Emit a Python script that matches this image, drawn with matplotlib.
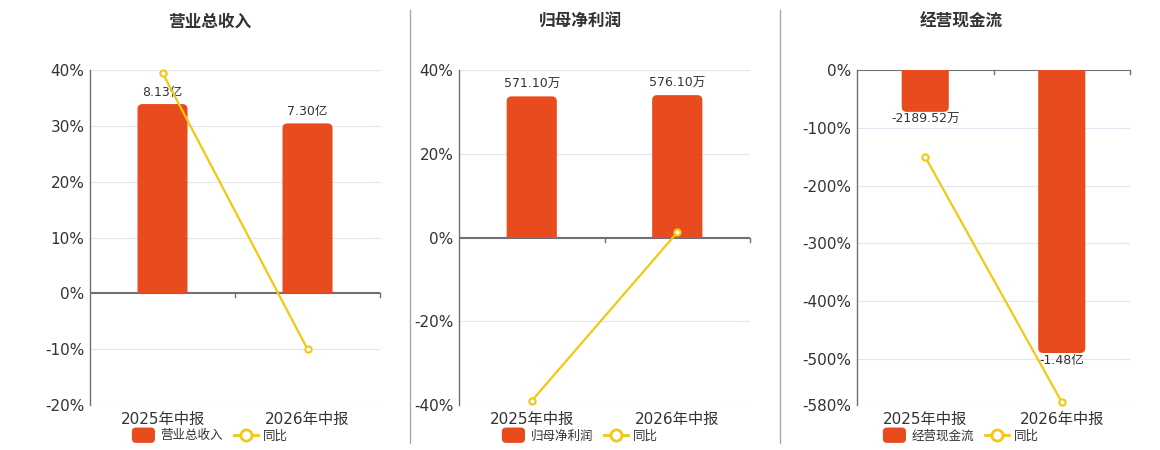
import matplotlib.pyplot as plt
from matplotlib.lines import Line2D
from matplotlib.patches import FancyBboxPatch, Patch, Rectangle
from matplotlib.legend_handler import HandlerPatch

plt.rcParams["font.family"] = ["DejaVu Sans", "Noto Sans CJK SC"]

# data
categories = ["2025年中报", "2026年中报"]

titles = ["营业总收入", "归母净利润", "经营现金流"]

revenue = [8.13, 7.30]            # 亿
revenue_labels = ["8.13亿", "7.30亿"]
revenue_yoy = [39.5, -10.0]       # %

profit = [571.10, 576.10]         # 万
profit_labels = ["571.10万", "576.10万"]
profit_yoy = [-39.0, 1.2]

cashflow = [-2189.52, -14800.0]   # 万
cashflow_labels = ["-2189.52万", "-1.48亿"]
cashflow_yoy = [-150.6, -575.0]

bars_all = [revenue, profit, cashflow]
labels_all = [revenue_labels, profit_labels, cashflow_labels]
yoy_all = [revenue_yoy, profit_yoy, cashflow_yoy]

# layout / style
W, H = 1160, 450
BAR_C = "#E84C1E"
LINE_C = "#F2C811"
GRID_C = "#E0E6F1"
AXIS_C = "#6E7079"
TEXT_C = "#333333"

panels = [
    dict(left=90, right=380, ylim=(-20, 40), ticks=[-20, -10, 0, 10, 20, 30, 40],
         bar_ref=(8.13, 33.9), title_x=210),
    dict(left=459, right=750, ylim=(-40, 40), ticks=[-40, -20, 0, 20, 40],
         bar_ref=(576.10, 34.0), title_x=580),
    dict(left=857, right=1130, ylim=(-580, 0), ticks=[-580, -500, -400, -300, -200, -100, 0],
         bar_ref=(-14800.0, -490.0), title_x=961),
]

fig = plt.figure(figsize=(W / 100, H / 100), dpi=100)
fig.patch.set_facecolor("white")

top_px, bot_px = 70, 405
RADIUS_PX = 5


class RoundHandler(HandlerPatch):
    def create_artists(self, legend, orig_handle, xdescent, ydescent, width, height, fontsize, trans):
        p = FancyBboxPatch((-xdescent, -ydescent - 1.5), width, height + 3,
                           boxstyle="round,pad=0,rounding_size=3",
                           facecolor=BAR_C, edgecolor="none", transform=trans)
        return [p]


x = list(range(len(categories)))

for i, p in enumerate(panels):
    wpx = p["right"] - p["left"]
    hpx = bot_px - top_px
    rect = [p["left"] / W, 1 - bot_px / H, wpx / W, hpx / H]
    ax = fig.add_axes(rect)
    ax.set_xlim(-0.5, 1.5)
    ax.set_ylim(*p["ylim"])
    ax.set_yticks(p["ticks"])
    ax.set_yticklabels([f"{t}%" for t in p["ticks"]], fontsize=11, color=TEXT_C)
    ax.tick_params(axis="y", length=0, pad=4)
    ax.set_xticks(x)
    ax.set_xticklabels(categories, fontsize=11, color=TEXT_C)
    ax.tick_params(axis="x", length=0, pad=5)
    for s in ["top", "right", "bottom"]:
        ax.spines[s].set_visible(False)
    ax.spines["left"].set_color(AXIS_C)
    ax.spines["left"].set_linewidth(1)
    for t in p["ticks"]:
        if t != 0:
            ax.axhline(t, color=GRID_C, lw=0.8, zorder=0)
    ax.axhline(0, color=AXIS_C, lw=1.5, zorder=3)
    ymin, ymax = p["ylim"]
    d = (ymax - ymin) * 0.012
    for bx in [0.5, 1.5]:
        ax.plot([bx, bx], [0, -d], color=AXIS_C, lw=1, zorder=3, clip_on=False)

    # bars on twin axis scaled so that the reference bar lands at the measured height
    axb = ax.twinx()
    val, pct = p["bar_ref"]
    k = val / pct
    blo, bhi = ymin * k, ymax * k
    axb.set_ylim(blo, bhi)
    axb.set_xlim(-0.5, 1.5)
    axb.axis("off")
    bars = axb.bar(x, bars_all[i], width=0.345, color=BAR_C, zorder=2)

    # rounded far ends of the bars
    xu = 2.0 / wpx
    yu = (bhi - blo) / hpx
    r = RADIUS_PX * xu
    aspect = yu / xu
    for b, v in zip(bars, bars_all[i]):
        b.set_visible(False)
        ry = RADIUS_PX * yu
        if v >= 0:
            y0, hh = b.get_y() - ry, b.get_height() + ry
            clip = Rectangle((-0.5, 0), 2, bhi, transform=axb.transData)
        else:
            y0, hh = b.get_y() + b.get_height(), -b.get_height() + ry
            clip = Rectangle((-0.5, blo), 2, -blo, transform=axb.transData)
        fb = FancyBboxPatch((b.get_x(), y0), b.get_width(), hh,
                            boxstyle=f"round,pad=0,rounding_size={r}",
                            mutation_aspect=aspect, facecolor=BAR_C, edgecolor="none", zorder=2)
        axb.add_patch(fb)
        fb.set_clip_path(clip)

    for b, lab, v in zip(bars, labels_all[i], bars_all[i]):
        if v >= 0:
            axb.annotate(lab, (b.get_x() + b.get_width() / 2, v), xytext=(0, 4),
                         textcoords="offset points", ha="center", va="bottom",
                         fontsize=9, color=TEXT_C)
        else:
            axb.annotate(lab, (b.get_x() + b.get_width() / 2, v), xytext=(0, -1),
                         textcoords="offset points", ha="center", va="top",
                         fontsize=9, color=TEXT_C)

    # line on top
    axl = ax.twinx()
    axl.set_ylim(*p["ylim"])
    axl.axis("off")
    axl.plot(x, yoy_all[i], color=LINE_C, lw=1.6, marker="o", markersize=4.5,
             markerfacecolor="white", markeredgecolor=LINE_C, markeredgewidth=1.5,
             zorder=5, clip_on=False)

    handles = [Patch(facecolor=BAR_C),
               Line2D([], [], color=LINE_C, lw=2, marker="o", markersize=8,
                      markerfacecolor="white", markeredgewidth=2)]
    leg = fig.legend(handles, [titles[i], "同比"], loc="center",
                     bbox_to_anchor=(p["title_x"] / W, 1 - 436 / H), ncol=2, frameon=False,
                     fontsize=9, handlelength=1.85, handleheight=1.0, columnspacing=0.9,
                     handletextpad=0.45, handler_map={Patch: RoundHandler()})
    for t in leg.get_texts():
        t.set_color(TEXT_C)

    fig.text(p["title_x"] / W, 1 - 22 / H, titles[i], fontsize=12, fontweight="bold",
             color=TEXT_C, ha="center", va="center")

# separators
for sx in [410, 780]:
    fig.add_artist(Line2D([sx / W, sx / W], [1 - 10 / H, 1 - 443 / H], color="#AAAAAA", lw=1))

fig.savefig("out.png", dpi=100, facecolor="white")
